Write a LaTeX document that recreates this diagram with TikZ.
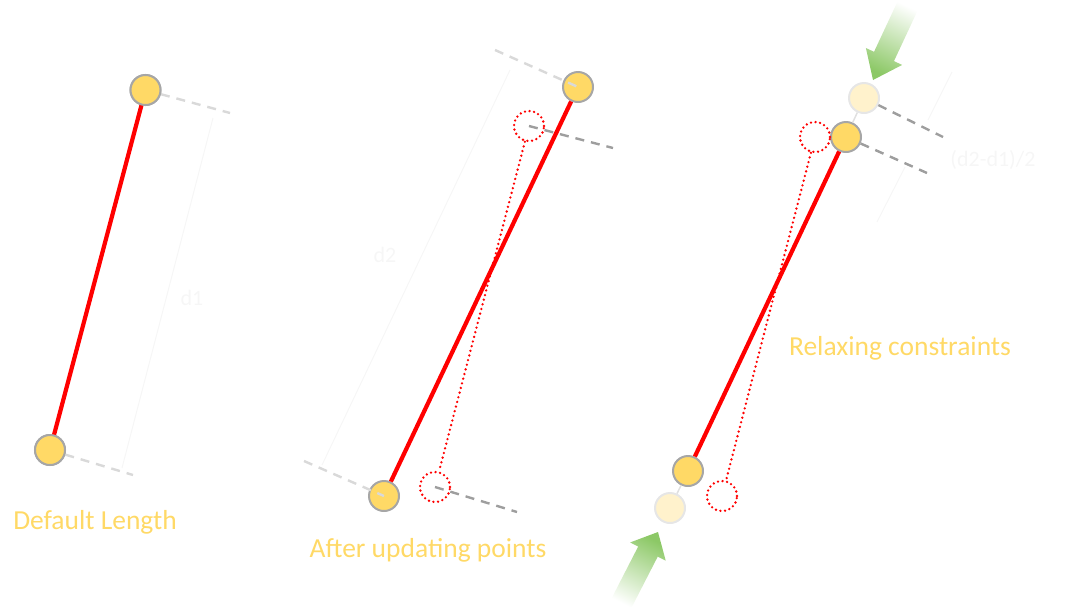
\documentclass[tikz,border=0pt]{standalone}
\usepackage{fontspec}
\setmainfont{Carlito}
\definecolor{ptfill}{HTML}{FFD966}
\definecolor{ptdraw}{HTML}{A6A6A6}
\definecolor{fadefill}{HTML}{FFF2CC}
\definecolor{fadedraw}{HTML}{E6E6E6}
\definecolor{lbl}{HTML}{FFD966}
\definecolor{ghost}{HTML}{F6F6F6}
\definecolor{arrowgreen}{HTML}{8CC866}
\begin{document}
\begin{tikzpicture}[x=1pt,y=-1pt,
  pt/.style={circle,fill=ptfill,draw=ptdraw,line width=2pt,minimum size=30pt,inner sep=0pt},
  fadept/.style={circle,fill=fadefill,draw=fadedraw,line width=2pt,minimum size=30pt,inner sep=0pt},
  ghostpt/.style={circle,draw=red,line width=2.6pt,dash pattern=on 0pt off 4.6pt,line cap=round,minimum size=30pt,inner sep=0pt},
  bar/.style={red,line width=4.2pt},
  ghostbar/.style={red,line width=2.6pt,dash pattern=on 0pt off 4.8pt,line cap=round},
  lightdash/.style={draw=black!15,line width=2.4pt,dash pattern=on 9pt off 7pt},
  darkdash/.style={draw=black!38,line width=2.4pt,dash pattern=on 9pt off 7pt},
  dimline/.style={draw=ghost,line width=1pt},
  dimlabel/.style={text=ghost,font=\fontsize{22}{26}\selectfont},
  caption/.style={text=lbl,font=\fontsize{27.5}{32}\selectfont},
  link/.style={draw=black!12,line width=1.5pt}
]
\useasboundingbox (0,0) rectangle (1071,606);

% ---------- faint dimension marks ----------
\coordinate (d1a) at (213,118); \coordinate (d1b) at (122,468);
\draw[dimline] (d1a) -- (d1b);
\node[dimlabel] (d1) at (192,298) {d1};
\coordinate (d2a) at (510,70); \coordinate (d2b) at (322,465);
\draw[dimline] (d2a) -- (d2b);
\node[dimlabel] (d2) at (385,255) {d2};
\coordinate (d3a) at (952,72); \coordinate (d3b) at (928,120);
\coordinate (d3c) at (905,167); \coordinate (d3d) at (877,222);
\draw[dimline] (d3a) -- (d3b);
\draw[dimline] (d3c) -- (d3d);
\node[dimlabel] (d3) at (993,160) {(d2-d1)/2};

% ---------- panel 1 ----------
\node[pt] (p1a) at (145.5,90) {};
\node[pt] (p1b) at (50,450) {};
\coordinate (e1a) at (230,113);
\coordinate (e1b) at (133,475);
\path[lightdash] (p1a.center) -- (e1a);
\path[lightdash] (p1b.center) -- (e1b);
\draw[bar] (p1a.center) -- (p1b.center);
\node[pt] at (p1a) {};
\node[pt] at (p1b) {};
\node[caption] (c1) at (95,522) {Default Length};

% ---------- panel 2 ----------
\node[ghostpt] (g2a) at (529,126) {};
\node[ghostpt] (g2b) at (435,487) {};
\draw[ghostbar] (g2a) -- (g2b);
\coordinate (e2c) at (613,148);
\coordinate (e2d) at (517,512);
\path[darkdash] (g2a.center) -- (e2c);
\path[darkdash] (g2b.center) -- (e2d);
\node[pt] (p2a) at (578,87) {};
\node[pt] (p2b) at (384,496) {};
\draw[bar] (p2a) -- (p2b);
\coordinate (e2a) at (495,50);
\coordinate (e2b) at (304,461);
\path[lightdash] (e2a) -- (p2a.center);
\path[lightdash] (e2b) -- (p2b.center);
\node[caption] (c2) at (428,550) {After updating points};

% ---------- panel 3 ----------
\node[fadept] (f3a) at (864,98) {};
\node[fadept] (f3b) at (670,508) {};
\node[pt] (p3a) at (846,137) {};
\node[pt] (p3b) at (688,471) {};
\draw[link] (f3a) -- (p3a);
\draw[link] (f3b) -- (p3b);
\coordinate (e3a) at (943,137);
\coordinate (e3b) at (927,173);
\path[darkdash] (f3a) -- (e3a);
\path[darkdash] (p3a) -- (e3b);
\node[ghostpt] (g3a) at (815,137) {};
\node[ghostpt] (g3b) at (722,496) {};
\draw[ghostbar] (g3a) -- (g3b);
\draw[bar] (p3a) -- (p3b);
\node[caption] (c3) at (900,348) {Relaxing constraints};

% ---------- green arrows ----------
\shade[top color=white, bottom color=arrowgreen, shading angle=-25]
  (899.04,-1.66) -- (874.04,51.79) -- (865.88,47.98) -- (873,80)
  -- (902.12,64.92) -- (893.96,61.11) -- (918.96,7.66) -- cycle;
\shade[top color=arrowgreen, bottom color=white, shading angle=-27]
  (610.22,600.98) -- (638.17,546.55) -- (630.16,542.43) -- (658,532)
  -- (665.74,560.7) -- (657.73,556.6) -- (629.78,611.02) -- cycle;
\end{tikzpicture}
\end{document}
